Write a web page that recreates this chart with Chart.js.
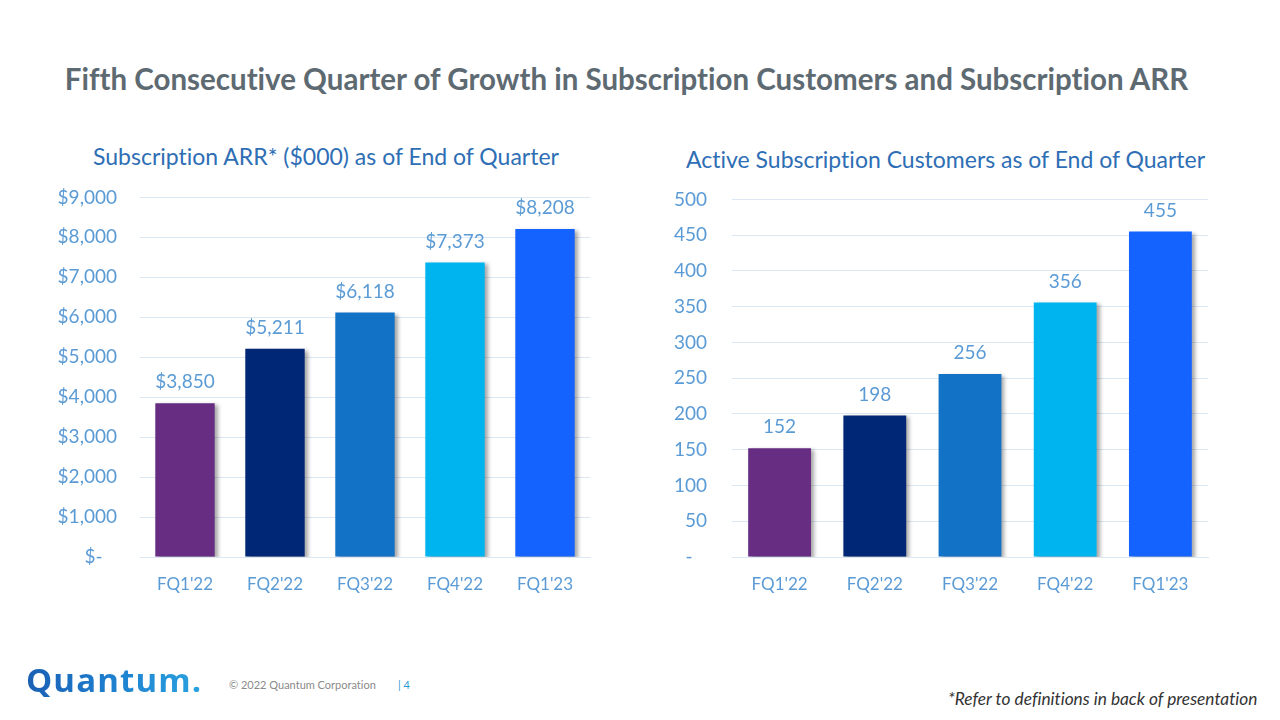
<!DOCTYPE html>
<html>
<head>
<meta charset="utf-8">
<script src="https://cdn.jsdelivr.net/npm/chart.js@4"></script>
<style>
  html, body { margin:0; padding:0; background:#fff; }
  body { width:1280px; height:720px; position:relative; overflow:hidden; font-family: Lato, "Open Sans", sans-serif; font-variant-ligatures:none; }
  #title { position:absolute; left:0; width:1253px; top:61px; text-align:center; font-weight:bold; font-size:29.5px; color:#5E6A72; white-space:nowrap; }
  .sub { position:absolute; top:142px; font-size:23px; color:#2E6EB5; white-space:nowrap; }
  #sub1 { left:93px; }
  #sub2 { left:686px; top:145px; }
  .wrap { position:absolute; }
  #w1 { left:30px; top:163px; width:580px; height:447px; }
  #w2 { left:640px; top:163px; width:590px; height:447px; }
  #logo { position:absolute; left:26px; top:657px; font-family:"Open Sans", sans-serif; font-weight:bold; font-size:33px; letter-spacing:1.1px;
          background:linear-gradient(90deg,#1A5FB4 0%,#1E80CF 50%,#2AA3E0 100%); -webkit-background-clip:text; background-clip:text; color:transparent; }
  #copy { position:absolute; left:229px; top:678px; font-size:11px; color:#8A8A8A; }
  #page { position:absolute; left:398px; top:678px; font-size:11px; color:#2E9BD6; }
  #note { position:absolute; left:948px; top:688px; font-size:17.3px; font-style:italic; color:#333; white-space:nowrap; }
</style>
</head>
<body>
<div id="title">Fifth Consecutive Quarter of Growth in Subscription Customers and Subscription ARR</div>
<div class="sub" id="sub1">Subscription ARR* ($000) as of End of Quarter</div>
<div class="sub" id="sub2">Active Subscription Customers as of End of Quarter</div>
<div class="wrap" id="w1"><canvas id="c1"></canvas></div>
<div class="wrap" id="w2"><canvas id="c2"></canvas></div>
<div id="logo">Quantum.</div>
<div id="copy">© 2022 Quantum Corporation</div>
<div id="page">| 4</div>
<div id="note">*Refer to definitions in back of presentation</div>
<script>
const categories = ["FQ1'22", "FQ2'22", "FQ3'22", "FQ4'22", "FQ1'23"];
const arrValues = [3850, 5211, 6118, 7373, 8208];
const customerValues = [152, 198, 256, 356, 455];
const barColors = ["#662D82", "#002776", "#1272C5", "#00B5EF", "#1463FF"];
const arrTicks = { min: 0, max: 9000, step: 1000 };
const custTicks = { min: 0, max: 500, step: 50 };

const tickColor = "#5B9BD5";
const gridColor = "#DCE7F4";
const FONT = "Lato";

function fmtMoney(v) { return v === 0 ? "$-\u2002 " : "$" + v.toLocaleString("en-US"); }
function fmtNum(v) { return v === 0 ? "-\u2002 " : String(v); }

const labelPlugin = {
  id: 'labelsShadow',
  beforeDatasetsDraw(chart) {
    const ctx = chart.ctx;
    ctx.save();
    ctx.shadowColor = 'rgba(0,0,0,0.35)';
    ctx.shadowBlur = 4;
    ctx.shadowOffsetX = 3;
    ctx.shadowOffsetY = 2;
  },
  afterDatasetsDraw(chart, args, opts) {
    const ctx = chart.ctx;
    ctx.restore();
    ctx.save();
    ctx.fillStyle = tickColor;
    ctx.font = "19px " + FONT;
    ctx.textAlign = 'center';
    ctx.textBaseline = 'middle';
    const meta = chart.getDatasetMeta(0);
    const data = chart.data.datasets[0].data;
    meta.data.forEach((bar, i) => {
      ctx.fillText(opts.fmt(data[i]), bar.x, bar.y - 21);
    });
    ctx.restore();
  }
};

function makeChart(id, values, ticks, fmt, yWidth, yPad, padRight) {
  return new Chart(document.getElementById(id), {
    type: 'bar',
    data: {
      labels: categories,
      datasets: [{ data: values, backgroundColor: barColors, borderWidth: 0,
                   barPercentage: 0.66, categoryPercentage: 1.0 }]
    },
    options: {
      responsive: true, maintainAspectRatio: false, animation: false,
      layout: { padding: { top: 13, right: padRight, left: 0, bottom: 0 } },
      plugins: { legend: { display: false }, tooltip: { enabled: false },
                 labelsShadow: { fmt: fmt } },
      scales: {
        x: {
          grid: { display: false, drawTicks: false },
          border: { display: true, color: gridColor, width: 1 },
          ticks: { color: tickColor, font: { family: FONT, size: 17 }, padding: 17 },
          afterFit(s) { s.height = 53; }
        },
        y: {
          min: ticks.min, max: ticks.max,
          grid: { color: gridColor, lineWidth: 1, drawTicks: false },
          border: { display: false },
          ticks: { stepSize: ticks.step, color: tickColor, font: { family: FONT, size: 19 },
                   padding: yPad, callback: (v) => fmt(v) },
          afterFit(s) { s.width = yWidth; }
        }
      }
    },
    plugins: [labelPlugin]
  });
}

makeChart('c1', arrValues, arrTicks, fmtMoney, 110, 23, 20);
makeChart('c2', customerValues, custTicks, fmtNum, 92, 25, 22);
</script>
</body>
</html>
